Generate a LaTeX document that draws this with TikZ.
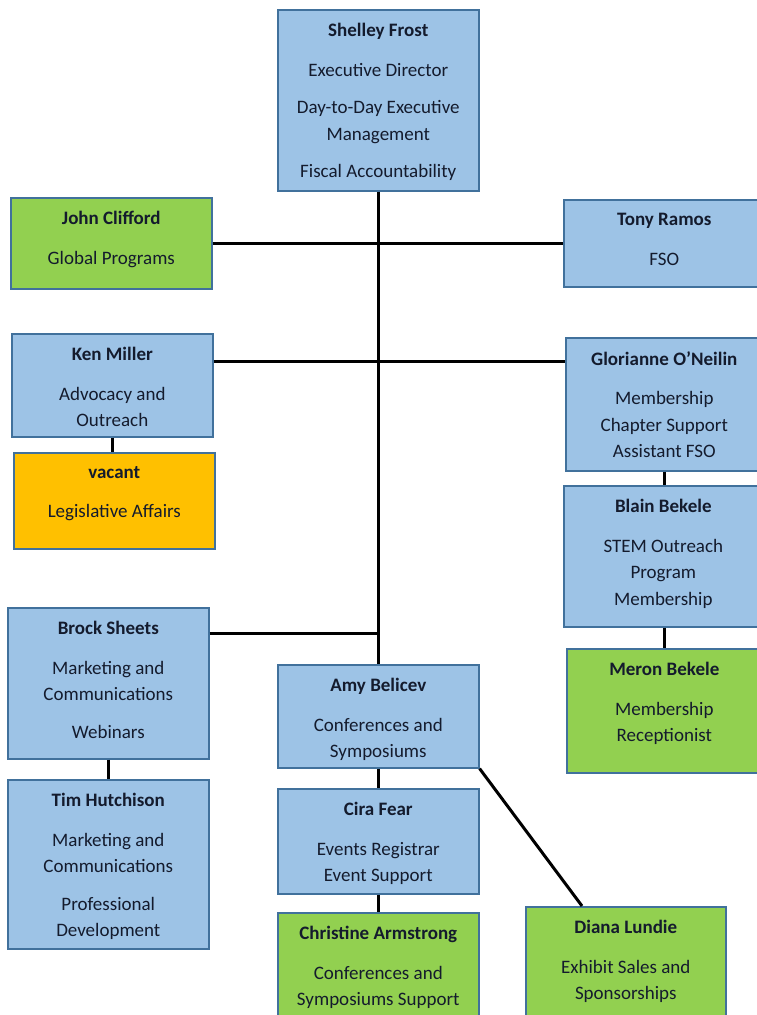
\documentclass[tikz,border=0pt]{standalone}
\usepackage{fontspec}
\setmainfont{Carlito}
\definecolor{bluefill}{HTML}{9DC3E6}
\definecolor{greenfill}{HTML}{92D050}
\definecolor{orangefill}{HTML}{FFC000}
\definecolor{bord}{HTML}{41719C}
\definecolor{txtc}{HTML}{141B2D}
\tikzset{
  box/.style={draw=bord, line width=1.6pt, inner sep=0pt, anchor=north west, minimum width=201pt},
  bluebox/.style={box, fill=bluefill},
  greenbox/.style={box, fill=greenfill},
  orangebox/.style={box, fill=orangefill},
  txt/.style={anchor=north, align=center, inner sep=0pt, text=txtc, yshift=-14pt,
    font=\fontsize{19}{26.5}\selectfont},
  conn/.style={draw=black, line width=3pt}
}
\newcommand{\nm}[1]{\textbf{#1}\\[13pt]}
\begin{document}
\begin{tikzpicture}[x=1pt,y=-1pt]
\useasboundingbox[fill=white] (0,0) rectangle (757,1015);
% boxes
\node[bluebox, minimum height=181pt] (shelley) at (277,9) {};
\node[greenbox, minimum height=91pt] (john) at (10,197) {};
\node[bluebox, minimum height=87pt] (tony) at (563,199) {};
\node[bluebox, minimum height=103pt] (ken) at (11,333) {};
\node[orangebox, minimum height=96pt] (vacant) at (13,452) {};
\node[bluebox, minimum height=133pt, minimum width=197pt] (glor) at (565,337) {};
\node[bluebox, minimum height=141pt, minimum width=199pt] (blain) at (563,485) {};
\node[greenbox, minimum height=124pt, minimum width=195pt] (meron) at (566,648) {};
\node[bluebox, minimum height=151pt] (brock) at (7,607) {};
\node[bluebox, minimum height=169pt] (tim) at (7,779) {};
\node[bluebox, minimum height=103pt] (amy) at (277,664) {};
\node[bluebox, minimum height=105pt] (cira) at (277,788) {};
\node[greenbox, minimum height=130pt] (christine) at (277,912) {};
\node[greenbox, minimum height=130pt, minimum width=200pt] (diana) at (525,906) {};
% texts
\node[txt] (tshelley) at (shelley.north) {\nm{Shelley Frost}Executive Director\\[11pt]Day-to-Day Executive\\Management\\[11pt]Fiscal Accountability};
\node[txt] (tjohn) at (john.north) {\nm{John Clifford}Global Programs};
\node[txt] (ttony) at (tony.north) {\nm{Tony Ramos}FSO};
\node[txt] (tken) at (ken.north) {\nm{Ken Miller}Advocacy and\\Outreach};
\node[txt] (tvacant) at (vacant.north) {\nm{vacant}Legislative Affairs};
\node[txt] (tglor) at (glor.north) {\nm{Glorianne O’Neilin}Membership\\Chapter Support\\Assistant FSO};
\node[txt] (tblain) at (blain.north) {\nm{Blain Bekele}STEM Outreach\\Program\\Membership};
\node[txt] (tmeron) at (meron.north) {\nm{Meron Bekele}Membership\\Receptionist};
\node[txt] (tbrock) at (brock.north) {\nm{Brock Sheets}Marketing and\\Communications\\[11pt]Webinars};
\node[txt] (ttim) at (tim.north) {\nm{Tim Hutchison}Marketing and\\Communications\\[11pt]Professional\\Development};
\node[txt] (tamy) at (amy.north) {\nm{Amy Belicev}Conferences and\\Symposiums};
\node[txt] (tcira) at (cira.north) {\nm{Cira Fear}Events Registrar\\Event Support};
\node[txt] (tchristine) at (christine.north) {\nm{Christine Armstrong}Conferences and\\Symposiums Support};
\node[txt] (tdiana) at (diana.north) {\nm{Diana Lundie}Exhibit Sales and\\Sponsorships};
% connectors
\coordinate (kg) at (0,361);
\coordinate (bj) at (0,633);
\draw[conn] (shelley.south) -- (amy.north);
\draw[conn] (john.east) -- (tony.west);
\draw[conn] (ken.east |- kg) -- (glor.west |- kg);
\draw[conn] (brock.east |- bj) -- (shelley.south |- bj);
\draw[conn] (ken.south) -- (ken.south |- vacant.north);
\draw[conn] (glor.south) -- (glor.south |- blain.north);
\draw[conn] (glor.south |- blain.south) -- (glor.south |- meron.north);
\draw[conn] (brock.south) -- (tim.north);
\draw[conn] (amy.south) -- (cira.north);
\draw[conn] (cira.south) -- (christine.north);
\draw[conn] (amy.south east) -- ([xshift=57pt]diana.north west);
\end{tikzpicture}
\end{document}
